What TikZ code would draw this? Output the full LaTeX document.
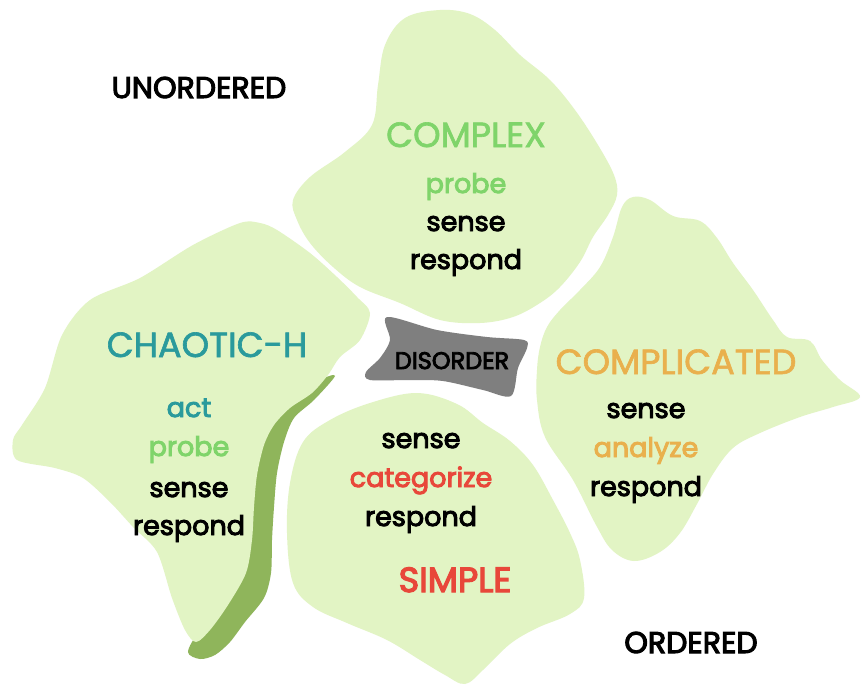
\documentclass[tikz,border=0pt]{standalone}
\usepackage{fontspec}
\setmainfont{Poppins}
\newfontfamily\semib[FakeBold=3.5]{Poppins}
\newfontfamily\medw[FakeBold=1.8]{Poppins}
\definecolor{blob}{HTML}{E2F4C4}
\definecolor{stripe}{HTML}{8FB55B}
\definecolor{dis}{HTML}{7F7F7F}
\definecolor{lgreen}{HTML}{7FD46A}
\definecolor{teal}{HTML}{2A9A9C}
\definecolor{orng}{HTML}{E9B04D}
\definecolor{redc}{HTML}{E8473A}
\tikzset{
  blobfill/.style={fill=blob, draw=none},
  head/.style={font=\fontsize{35}{35}\medw, inner sep=0pt, anchor=base},
  word/.style={font=\fontsize{27}{27}\semib, inner sep=0pt, anchor=base},
  corner/.style={font=\fontsize{30}{30}\semib, inner sep=0pt, anchor=base},
}
\begin{document}
\begin{tikzpicture}[x=1pt,y=-1pt]
\useasboundingbox (0,0) rectangle (861,690);
\fill[white] (0,0) rectangle (861,690);
% COMPLEX blob
\fill[blobfill] plot[smooth cycle, tension=0.6] coordinates {
 (405,18) (440,10) (470,14) (495,30) (520,55) (550,80) (575,110) (598,145)
 (614,175) (617,195) (608,215) (593,237) (580,262) (560,287) (540,303)
 (513,317) (480,323) (440,320) (400,303) (360,287) (333,267) (310,243)
 (297,220) (293,200) (310,177) (345,152) (372,125) (378,85) (385,45)};
% stripe of CHAOTIC
\fill[stripe] plot[smooth cycle, tension=0.5] coordinates {
 (335,376) (314,400) (294,418) (284,442) (277,473) (274,507) (272,540)
 (271,573) (264,598) (245,622) (230,642) (215,655) (200,659) (188,652)
 (200,630) (235,590) (245,540) (248,480) (260,430) (290,400) (320,380)};
% CHAOTIC blob
\fill[blobfill] plot[smooth cycle, tension=0.5] coordinates {
 (240,223) (260,223) (277,230) (310,253) (337,277) (357,297) (370,313)
 (360,340) (340,357) (328,375) (312,393) (290,408) (274,425) (264,445)
 (257,475) (254,507) (252,540) (246,573) (228,605) (210,630) (196,642)
 (185,630) (172,598) (157,552) (133,527) (110,502) (83,478) (55,468)
 (17,460) (13,440) (22,425) (45,388) (62,335) (90,300) (140,278) (193,245)};
% SIMPLE blob
\fill[blobfill] plot[smooth cycle, tension=0.6] coordinates {
 (417,393) (370,403) (330,420) (303,442) (290,483) (287,533) (293,583)
 (313,607) (347,623) (387,640) (420,660) (445,675) (465,684) (483,670)
 (510,644) (537,628) (570,614) (584,598) (580,560) (570,533) (553,500)
 (533,465) (510,441) (483,423) (457,404)};
% COMPLICATED blob
\fill[blobfill] plot[smooth cycle, tension=0.6] coordinates {
 (633,197) (650,200) (673,216) (700,221) (717,238) (733,263) (753,290)
 (773,320) (787,337) (810,341) (822,360) (840,380) (860,397) (833,407)
 (800,417) (760,433) (733,448) (713,474) (697,504) (680,533) (660,552)
 (634,561) (612,550) (596,525) (573,480) (545,437) (537,400) (537,370)
 (540,347) (547,327) (560,310) (580,290) (600,267) (613,237) (622,207)};
% DISORDER
\fill[dis] plot[smooth cycle, tension=0.5] coordinates {
 (387,317) (437,330) (487,337) (524,340) (527,348) (518,368) (511,396)
 (483,390) (443,381) (410,380) (370,380) (366,372) (380,358) (390,340)};
% texts
\node[corner] (unord) at (199,98) {UNORDERED};
\node[corner] (ord) at (691,653) {ORDERED};
\node[head, text=lgreen] (complex) at (466,147) {COMPLEX};
\node[word, text=lgreen] (c1) at (466,193) {probe};
\node[word] (c2) at (466,231) {sense};
\node[word] (c3) at (466,269) {respond};
\node[head, text=teal] (chaotic) at (207,357) {CHAOTIC-H};
\node[word, text=teal] (h1) at (189,417) {act};
\node[word, text=lgreen] (h2) at (189,456) {probe};
\node[word] (h3) at (189,497) {sense};
\node[word] (h4) at (189,535) {respond};
\node[font=\fontsize{24}{24}\semib, inner sep=0pt, anchor=base] (disorder) at (452,369) {DISORDER};
\node[head, text=orng] (compl) at (676,374) {COMPLICATED};
\node[word] (p1) at (646,418) {sense};
\node[word, text=orng] (p2) at (646,457) {analyze};
\node[word] (p3) at (646,496) {respond};
\node[word] (s1) at (421,448) {sense};
\node[word, text=redc] (s2) at (421,487) {categorize};
\node[word] (s3) at (421,526) {respond};
\node[head, text=redc, font=\fontsize{35}{35}\semib] (simple) at (455,592) {SIMPLE};
\end{tikzpicture}
\end{document}
